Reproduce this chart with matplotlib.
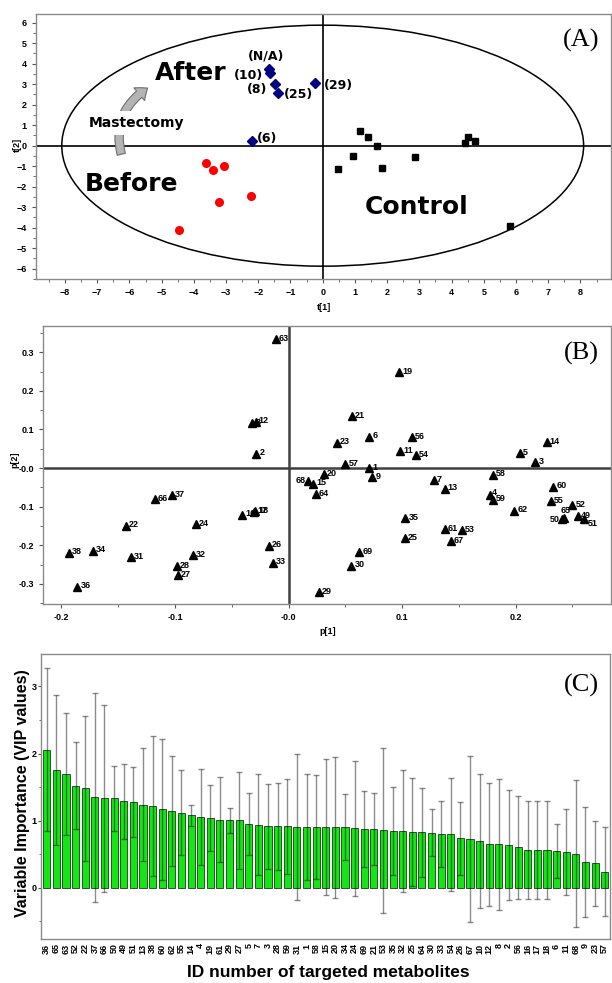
import matplotlib
matplotlib.use("Agg")
import matplotlib.pyplot as plt
from matplotlib.patches import Ellipse, FancyArrowPatch
from matplotlib.ticker import MultipleLocator, FixedLocator
import numpy as np

# ---------------- Panel A data (scores t[1], t[2]) ----------------
after_x = [-1.66, -1.64, -1.49, -1.40, -0.25, -2.19]
after_y = [3.74, 3.53, 3.00, 2.59, 3.07, 0.23]
after_labels = ['(N/A)', '(10)', '(8)', '(25)', '(29)', '(6)']
before_x = [-3.63, -3.40, -3.06, -3.23, -2.22, -4.47]
before_y = [-0.86, -1.20, -0.99, -2.76, -2.44, -4.13]
control_x = [1.15, 1.41, 1.69, 0.93, 0.49, 1.85, 2.85, 4.41, 4.52, 4.74, 5.81]
control_y = [0.73, 0.44, 0.00, -0.50, -1.15, -1.10, -0.57, 0.12, 0.44, 0.24, -3.92]
a_xticks = [-8, -7, -6, -5, -4, -3, -2, -1, 0, 1, 2, 3, 4, 5, 6, 7, 8]
a_yticks = [-6, -5, -4, -3, -2, -1, 0, 1, 2, 3, 4, 5, 6]

# ---------------- Panel B data (loadings p[1], p[2]) ----------------
b_ids = ['63', '8', '12', '2', '68', '66', '37', '16', '17', '18', '22', '24', '26', '33',
         '38', '34', '31', '32', '28', '27', '36', '19', '21', '6', '56', '23', '11', '54',
         '57', '1', '20', '9', '15', '64', '7', '13', '35', '25', '61', '53', '67', '69',
         '30', '29', '58', '4', '59', '62', '5', '3', '14', '60', '55', '52', '65', '50',
         '49', '51']
b_x = [-0.0114, -0.032, -0.029, -0.0284, 0.0175, -0.118, -0.103, -0.041, -0.0300, -0.0293,
       -0.143, -0.0815, -0.0173, -0.0138, -0.1935, -0.172, -0.139, -0.0844, -0.0985, -0.0976,
       -0.186, 0.0973, 0.0557, 0.071, 0.1085, 0.0425, 0.0982, 0.112, 0.050, 0.071, 0.031,
       0.0739, 0.0217, 0.024, 0.128, 0.1375, 0.103, 0.1023, 0.1375, 0.1525, 0.143, 0.0624,
       0.0554, 0.0267, 0.180, 0.1774, 0.180, 0.199, 0.2035, 0.2175, 0.2275, 0.233, 0.231,
       0.250, 0.243, 0.241, 0.255, 0.2606]
b_y = [0.334, 0.117, 0.120, 0.037, -0.034, -0.081, -0.070, -0.121, -0.113, -0.111,
       -0.149, -0.145, -0.201, -0.245, -0.219, -0.214, -0.231, -0.226, -0.254, -0.277,
       -0.307, 0.249, 0.135, 0.081, 0.0795, 0.0656, 0.044, 0.033, 0.010, 0.000, -0.016,
       -0.023, -0.0406, -0.067, -0.031, -0.053, -0.129, -0.181, -0.159, -0.161, -0.190, -0.218,
       -0.253, -0.321, -0.017, -0.069, -0.082, -0.110, 0.038, 0.0147, 0.068, -0.048, -0.085,
       -0.096, -0.130, -0.133, -0.124, -0.133]
b_xticks = [-0.2, -0.1, 0.0, 0.1, 0.2]
b_xticklabels = ['-0.2', '-0.1', '-0.0', '0.1', '0.2']
b_yticks = [-0.3, -0.2, -0.1, 0.0, 0.1, 0.2, 0.3]
b_yticklabels = ['-0.3', '-0.2', '-0.1', '-0.0', '0.1', '0.2', '0.3']

# ---------------- Panel C data (VIP values) ----------------
c_ids = ['36', '65', '63', '52', '22', '37', '66', '50', '49', '51', '13', '38', '60', '62',
         '55', '14', '4', '19', '61', '29', '27', '5', '7', '3', '28', '59', '31', '1', '58',
         '15', '20', '34', '24', '69', '21', '53', '35', '32', '25', '64', '30', '33', '54',
         '26', '67', '10', '12', '8', '2', '56', '16', '17', '18', '6', '11', '68', '9', '23', '57']
c_vip = [2.06, 1.75, 1.69, 1.52, 1.48, 1.35, 1.33, 1.33, 1.29, 1.28, 1.24, 1.22, 1.17, 1.14,
         1.12, 1.08, 1.055, 1.035, 1.015, 1.005, 1.005, 0.945, 0.94, 0.915, 0.915, 0.915, 0.91,
         0.91, 0.905, 0.905, 0.903, 0.90, 0.886, 0.876, 0.876, 0.856, 0.846, 0.846, 0.83, 0.826,
         0.816, 0.796, 0.796, 0.736, 0.726, 0.70, 0.647, 0.647, 0.637, 0.60, 0.557, 0.557, 0.557,
         0.547, 0.532, 0.507, 0.378, 0.363, 0.239]
c_err = [1.22, 1.12, 0.91, 0.65, 1.08, 1.56, 1.39, 0.49, 0.56, 0.52, 0.84, 1.04, 1.05, 0.82,
         0.64, 0.154, 0.71, 0.49, 0.63, 0.19, 0.72, 0.46, 0.75, 0.63, 0.65, 0.71, 1.09, 0.79,
         0.78, 1.02, 1.05, 0.49, 1.01, 0.57, 0.54, 1.23, 0.65, 0.91, 0.80, 0.66, 0.35, 0.49,
         0.84, 0.54, 1.24, 1.00, 0.92, 0.98, 0.82, 0.77, 0.73, 0.73, 0.73, 0.40, 0.64, 1.10,
         0.82, 0.63, 0.66]
c_yticks = [0, 1, 2, 3]

# ---------------- styling ----------------
W, H = 612, 983
fig = plt.figure(figsize=(W / 100, H / 100), dpi=100)
TICKF = dict(family='Liberation Sans', weight='bold', size=6.5)
SPINE = '#8a8a8a'


def px_axes(l, t, r, b):
    return fig.add_axes([l / W, 1 - b / H, (r - l) / W, (b - t) / H])


def style_axes(ax):
    for s in ax.spines.values():
        s.set_color(SPINE)
        s.set_linewidth(1.0)
    ax.tick_params(which='both', colors='#555555', labelcolor='black', direction='out')
    ax.tick_params(which='major', length=3, width=0.8)
    ax.tick_params(which='minor', length=2, width=0.6)
    for lab in ax.get_xticklabels() + ax.get_yticklabels():
        lab.set_fontproperties(matplotlib.font_manager.FontProperties(**TICKF))


# ================= Panel A =================
axA = px_axes(36, 14, 611, 279)
axA.set_xlim(-8.9, 8.95)
axA.set_ylim(-6.5, 6.42)
axA.axhline(0, color='black', lw=1.2, zorder=1)
axA.axvline(0, color='black', lw=1.2, zorder=1)
axA.add_patch(Ellipse((0, 0), 16.2, 11.75, fill=False, ec='black', lw=1.1, zorder=1))
axA.plot(after_x, after_y, 'D', color='#000080', ms=5.5, zorder=4)
axA.plot(before_x, before_y, 'o', color='#ff0000', ms=5.5, mec='#ff0000', zorder=4)
axA.plot(control_x, control_y, 's', color='black', ms=5, zorder=4)
a_label_off = [(-2.6, 9.4), (-15.6, -1.9), (-13.0, -4.1), (15.3, -1.2), (16.8, -1.7), (10.4, 1.9)]
for xv, yv, lab, off in zip(after_x, after_y, after_labels, a_label_off):
    axA.annotate(lab, (xv, yv), xytext=off, textcoords='offset points', ha='center',
                 va='center', fontsize=9, fontweight='bold', family='DejaVu Sans', zorder=5)
big = dict(fontsize=18, fontweight='bold', family='DejaVu Sans', ha='center', va='center')
axA.text(-4.1, 3.55, 'After', **big)
axA.text(-5.92, -1.89, 'Before', **big)
axA.text(2.91, -3.0, 'Control', **big)
arrow = FancyArrowPatch((-6.23, -0.55), (-5.36, 2.88), connectionstyle='arc3,rad=-0.38',
                        arrowstyle='simple,head_length=0.75,head_width=1.2,tail_width=0.6',
                        mutation_scale=10, fc='#b4b4b4', ec='#6e6e6e', lw=0.8, zorder=2)
axA.add_patch(arrow)
axA.text(-5.77, 1.12, 'Mastectomy', fontsize=10, fontweight='bold', family='DejaVu Sans',
         ha='center', va='center', zorder=3,
         bbox=dict(boxstyle='square,pad=0.35', fc='white', ec='none'))
axA.text(0.948, 0.90, '(A)', transform=axA.transAxes, fontsize=19, family='Liberation Serif',
         ha='center', va='center')
axA.xaxis.set_major_locator(FixedLocator(a_xticks))
axA.yaxis.set_major_locator(FixedLocator(a_yticks))
axA.xaxis.set_minor_locator(MultipleLocator(0.5))
axA.yaxis.set_minor_locator(MultipleLocator(0.5))
style_axes(axA)
fig.text(324 / W, 1 - 307 / H, 't[1]', ha='center', va='center', **TICKF)
fig.text(17 / W, 1 - 145 / H, 't[2]', ha='center', va='center', rotation=90, **TICKF)

# ================= Panel B =================
axB = px_axes(43.3, 326, 611, 604)
axB.set_xlim(-0.216, 0.284)
axB.set_ylim(-0.352, 0.368)
axB.axhline(0, color='#404040', lw=1.8, zorder=1)
axB.axvline(0, color='#404040', lw=1.8, zorder=1)
axB.plot(b_x, b_y, '^', color='black', ms=6, zorder=3)
special = {'68': ((-2, 0.5), 'right'), '50': ((-1.5, 0.3), 'right'), '65': ((-3, 5.5), 'left'),
           '51': ((2.2, -3.0), 'left'), '4': ((1.5, 1.6), 'left')}
for xv, yv, lab in zip(b_x, b_y, b_ids):
    off, ha = special.get(lab, ((2.2, 0.6), 'left'))
    axB.annotate(lab, (xv, yv), xytext=off, textcoords='offset points', ha=ha, va='center',
                 fontsize=6.5, fontweight='bold', family='Liberation Sans', zorder=4)
axB.xaxis.set_major_locator(FixedLocator(b_xticks))
axB.set_xticklabels(b_xticklabels)
axB.yaxis.set_major_locator(FixedLocator(b_yticks))
axB.set_yticklabels(b_yticklabels)
axB.xaxis.set_minor_locator(MultipleLocator(0.05))
axB.yaxis.set_minor_locator(MultipleLocator(0.05))
style_axes(axB)
axB.text(0.947, 0.902, '(B)', transform=axB.transAxes, fontsize=19, family='Liberation Serif',
         ha='center', va='center')
fig.text(328 / W, 1 - 632 / H, 'p[1]', ha='center', va='center', **TICKF)
fig.text(15 / W, 1 - 460 / H, 'p[2]', ha='center', va='center', rotation=90, **TICKF)

# ================= Panel C =================
axC = px_axes(41.3, 654.3, 610, 939.3)
pos = np.arange(len(c_ids))
axC.bar(pos, c_vip, width=0.74, color='#14e614', edgecolor='#1a3a1a', linewidth=0.6, zorder=2)
axC.errorbar(pos, c_vip, yerr=c_err, fmt='none', ecolor='black', alpha=0.45, elinewidth=1.0,
             capsize=2.3, capthick=1.0, zorder=3)
axC.set_xlim(-0.57, len(c_ids) - 0.45)
axC.set_ylim(-0.77, 3.48)
axC.set_xticks(pos)
axC.set_xticklabels(c_ids, rotation=90)
axC.yaxis.set_major_locator(FixedLocator(c_yticks))
axC.yaxis.set_minor_locator(MultipleLocator(0.5))
style_axes(axC)
axC.tick_params(axis='x', length=0, pad=3)
axC.tick_params(axis='y', which='major', length=2.5, pad=1)
axC.tick_params(axis='y', which='minor', length=1.5)
axC.text(0.950, 0.892, '(C)', transform=axC.transAxes, fontsize=19, family='Liberation Serif',
         ha='center', va='center')
fig.text(23 / W, 1 - 793 / H, 'Variable Importance (VIP values)', rotation=90, ha='center',
         va='center', fontsize=11.5, fontweight='bold', family='Liberation Sans')
fig.text(328 / W, 1 - 972 / H, 'ID number of targeted metabolites', ha='center', va='center',
         fontsize=12.5, fontweight='bold', family='Liberation Sans')

fig.savefig('out.png', dpi=100)
